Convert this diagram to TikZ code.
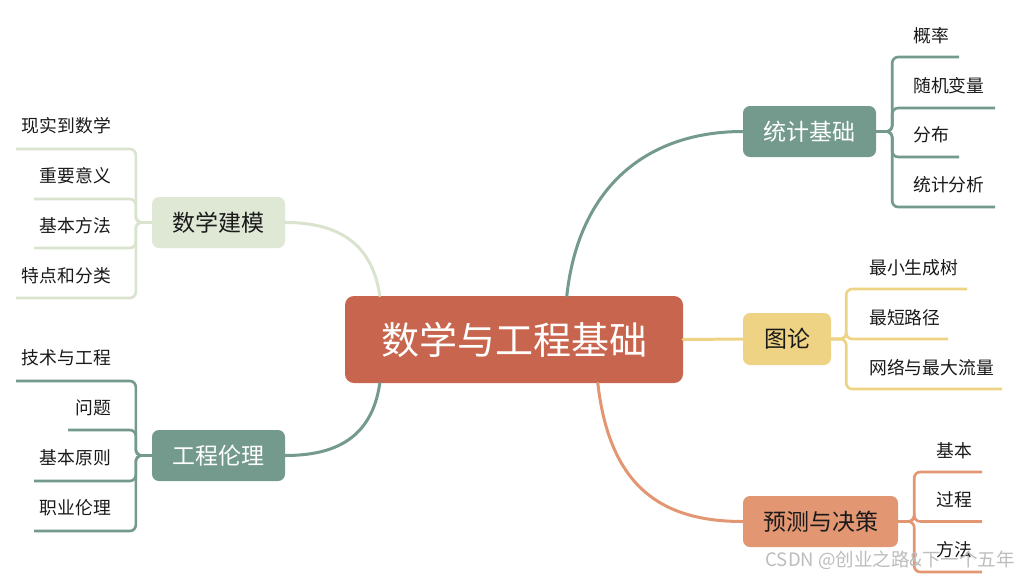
\documentclass[tikz,border=0pt]{standalone}
\usepackage{fontspec}
\setmainfont{Noto Sans CJK SC}
\definecolor{cRoot}{HTML}{C8654E}
\definecolor{cStat}{HTML}{739A8C}
\definecolor{cGraph}{HTML}{EFD384}
\definecolor{cPred}{HTML}{E29672}
\definecolor{cModel}{HTML}{DFE7D5}
\definecolor{cModelL}{HTML}{D9E3CE}
\definecolor{cText}{HTML}{1A1A1A}
\definecolor{cMark}{HTML}{BDBDBD}
\tikzset{
  branch/.style={rounded corners=7pt, inner sep=0pt, minimum height=51pt, font=\fontsize{23}{25}\selectfont},
  leaf/.style={inner sep=0pt, text=cText, font=\fontsize{17.8}{19}\selectfont},
  main/.style={line width=3pt, line cap=round},
  sub/.style={line width=2.6pt, rounded corners=6pt},
}
\begin{document}
\begin{tikzpicture}[x=1pt,y=-1pt]
\path[use as bounding box, fill=white] (0,0) rectangle (1019,578);

% root
\node[fill=cRoot, rounded corners=9pt, minimum width=338pt, minimum height=87pt, inner sep=0pt,
      text=white, font=\fontsize{38}{40}\selectfont] (root) at (514,339.5) {数学与工程基础};

% branches
\node[branch, fill=cStat, text=white, minimum width=133pt] (stat) at (809.5,131.5) {统计基础};
\node[branch, fill=cGraph, text=cText, minimum width=88pt, minimum height=52pt] (graph) at (787,339) {图论};
\node[branch, fill=cPred, text=cText, minimum width=155pt] (pred) at (820.5,521.5) {预测与决策};
\node[branch, fill=cModel, text=cText, minimum width=133pt] (model) at (218.5,222.5) {数学建模};
\node[branch, fill=cStat, text=white, minimum width=133pt] (eth) at (218.5,455.5) {工程伦理};

% main connectors
\draw[main, cStat] ([xshift=222pt]root.north west) .. controls +(12,-110) and +(-95,0) .. (stat.west);
\draw[main, cGraph] (root.east) -- (graph.west);
\draw[main, cPred] ([xshift=253pt]root.south west) .. controls +(12,105) and +(-80,0) .. (pred.west);
\draw[main, cModelL] ([xshift=35pt]root.north west) .. controls +(-8,-55) and +(50,0) .. (model.east);
\draw[main, cStat] ([xshift=35pt]root.south west) .. controls +(-8,55) and +(50,0) .. (eth.east);

% stat children
\node[leaf, anchor=west] (s1) at (913,36) {概率};
\node[leaf, anchor=west] (s2) at (913,86) {随机变量};
\node[leaf, anchor=west] (s3) at (913,135) {分布};
\node[leaf, anchor=west] (s4) at (913,185) {统计分析};
\coordinate (s1e) at (959,57);
\coordinate (s2e) at (995,108);
\coordinate (s3e) at (959,157);
\coordinate (s4e) at (995,207);
\foreach \e in {s1e,s2e,s3e,s4e}
  \draw[sub, cStat] (stat.east) -- ++(16,0) |- (\e);

% graph children
\node[leaf, anchor=west] (g1) at (869,268) {最小生成树};
\node[leaf, anchor=west] (g2) at (869,318) {最短路径};
\node[leaf, anchor=west] (g3) at (869,368) {网络与最大流量};
\coordinate (g1e) at (967,289);
\coordinate (g2e) at (948,339);
\coordinate (g3e) at (1002,389);
\foreach \e in {g1e,g2e,g3e}
  \draw[sub, cGraph] (graph.east) -- ++(15,0) |- (\e);

% pred children
\node[leaf, anchor=west] (p1) at (936,451) {基本};
\node[leaf, anchor=west] (p2) at (936,500) {过程};
\node[leaf, anchor=west] (p3) at (936,550) {方法};
\coordinate (p1e) at (982,472);
\coordinate (p2e) at (982,521.5);
\coordinate (p3e) at (982,572);
\foreach \e in {p1e,p2e,p3e}
  \draw[sub, cPred] (pred.east) -- ++(16,0) |- (\e);

% model children
\node[leaf, anchor=east] (m1) at (111,126) {现实到数学};
\node[leaf, anchor=east] (m2) at (111,176) {重要意义};
\node[leaf, anchor=east] (m3) at (111,226) {基本方法};
\node[leaf, anchor=east] (m4) at (111,276) {特点和分类};
\coordinate (m1e) at (16,149);
\coordinate (m2e) at (34,199);
\coordinate (m3e) at (34,248);
\coordinate (m4e) at (16,298);
\foreach \e in {m1e,m2e,m3e,m4e}
  \draw[sub, cModelL] (model.west) -- ++(-16,0) |- (\e);

% ethics children
\node[leaf, anchor=east] (e1) at (111,358) {技术与工程};
\node[leaf, anchor=east] (e2) at (111,408) {问题};
\node[leaf, anchor=east] (e3) at (111,458) {基本原则};
\node[leaf, anchor=east] (e4) at (111,508) {职业伦理};
\coordinate (e1e) at (16,381);
\coordinate (e2e) at (68,430);
\coordinate (e3e) at (34,481);
\coordinate (e4e) at (34,531);
\foreach \e in {e1e,e2e,e3e,e4e}
  \draw[sub, cStat] (eth.west) -- ++(-16,0) |- (\e);

% watermark
\node[anchor=east, inner sep=0pt, text=cMark, font=\fontsize{18.5}{20}\selectfont] (wm) at (1015,560) {CSDN @创业之路\&下一个五年};
\end{tikzpicture}
\end{document}
